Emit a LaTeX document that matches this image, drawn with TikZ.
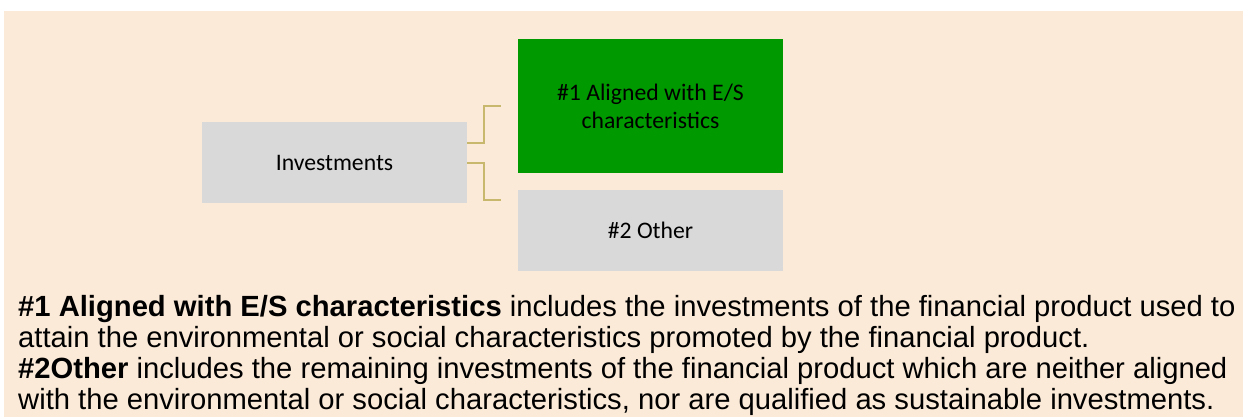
\documentclass[tikz,border=0pt]{standalone}
\usepackage{fontspec}
\setmainfont{Liberation Sans}
\newfontfamily\boxfont{Carlito}
\definecolor{bgpeach}{RGB}{251,234,216}
\definecolor{boxgray}{RGB}{217,217,217}
\definecolor{boxgreen}{RGB}{0,153,0}
\definecolor{linkgold}{RGB}{200,184,110}
\begin{document}
\begin{tikzpicture}[x=1pt,y=-1pt,
  box/.style={rectangle,inner sep=0pt,outer sep=0pt,align=center,
    font=\boxfont\fontsize{23.7}{28}\selectfont,text=black},
  link/.style={draw=linkgold,line width=1.8pt},
  para/.style={anchor=base west,inner sep=0pt,font=\fontsize{29.2}{32}\selectfont}]
\useasboundingbox (0,0) rectangle (1243,417);
\fill[bgpeach] (4,11) rectangle (1243,417);
\node[box,fill=boxgray,minimum width=265pt,minimum height=81pt] (inv) at (334.5,162.5) {Investments};
\node[box,fill=boxgreen,minimum width=265pt,minimum height=134pt] (al) at (650.5,106) {\#1 Aligned with E/S\\characteristics};
\node[box,fill=boxgray,minimum width=265pt,minimum height=80pt] (oth) at (650.5,230.5) {\#2 Other};
\coordinate (j1) at (500.5,106);
\coordinate (j2) at (500.5,200.3);
\draw[link] (inv.east |- 0,143.3) -- (483.7,143.3) |- (j1);
\draw[link] (inv.east |- 0,162.7) -- (483.7,162.7) |- (j2);
\node[para] (l1) at (18,316) {\textbf{\#1 Aligned with E/S characteristics} includes the investments of the financial product used to};
\node[para] (l2) at (18,347) {attain the environmental or social characteristics promoted by the financial product.};
\node[para] (l3) at (18,378) {\textbf{\#2Other} includes the remaining investments of the financial product which are neither aligned};
\node[para] (l4) at (18,409) {with the environmental or social characteristics, nor are qualified as sustainable investments.};
\end{tikzpicture}
\end{document}
